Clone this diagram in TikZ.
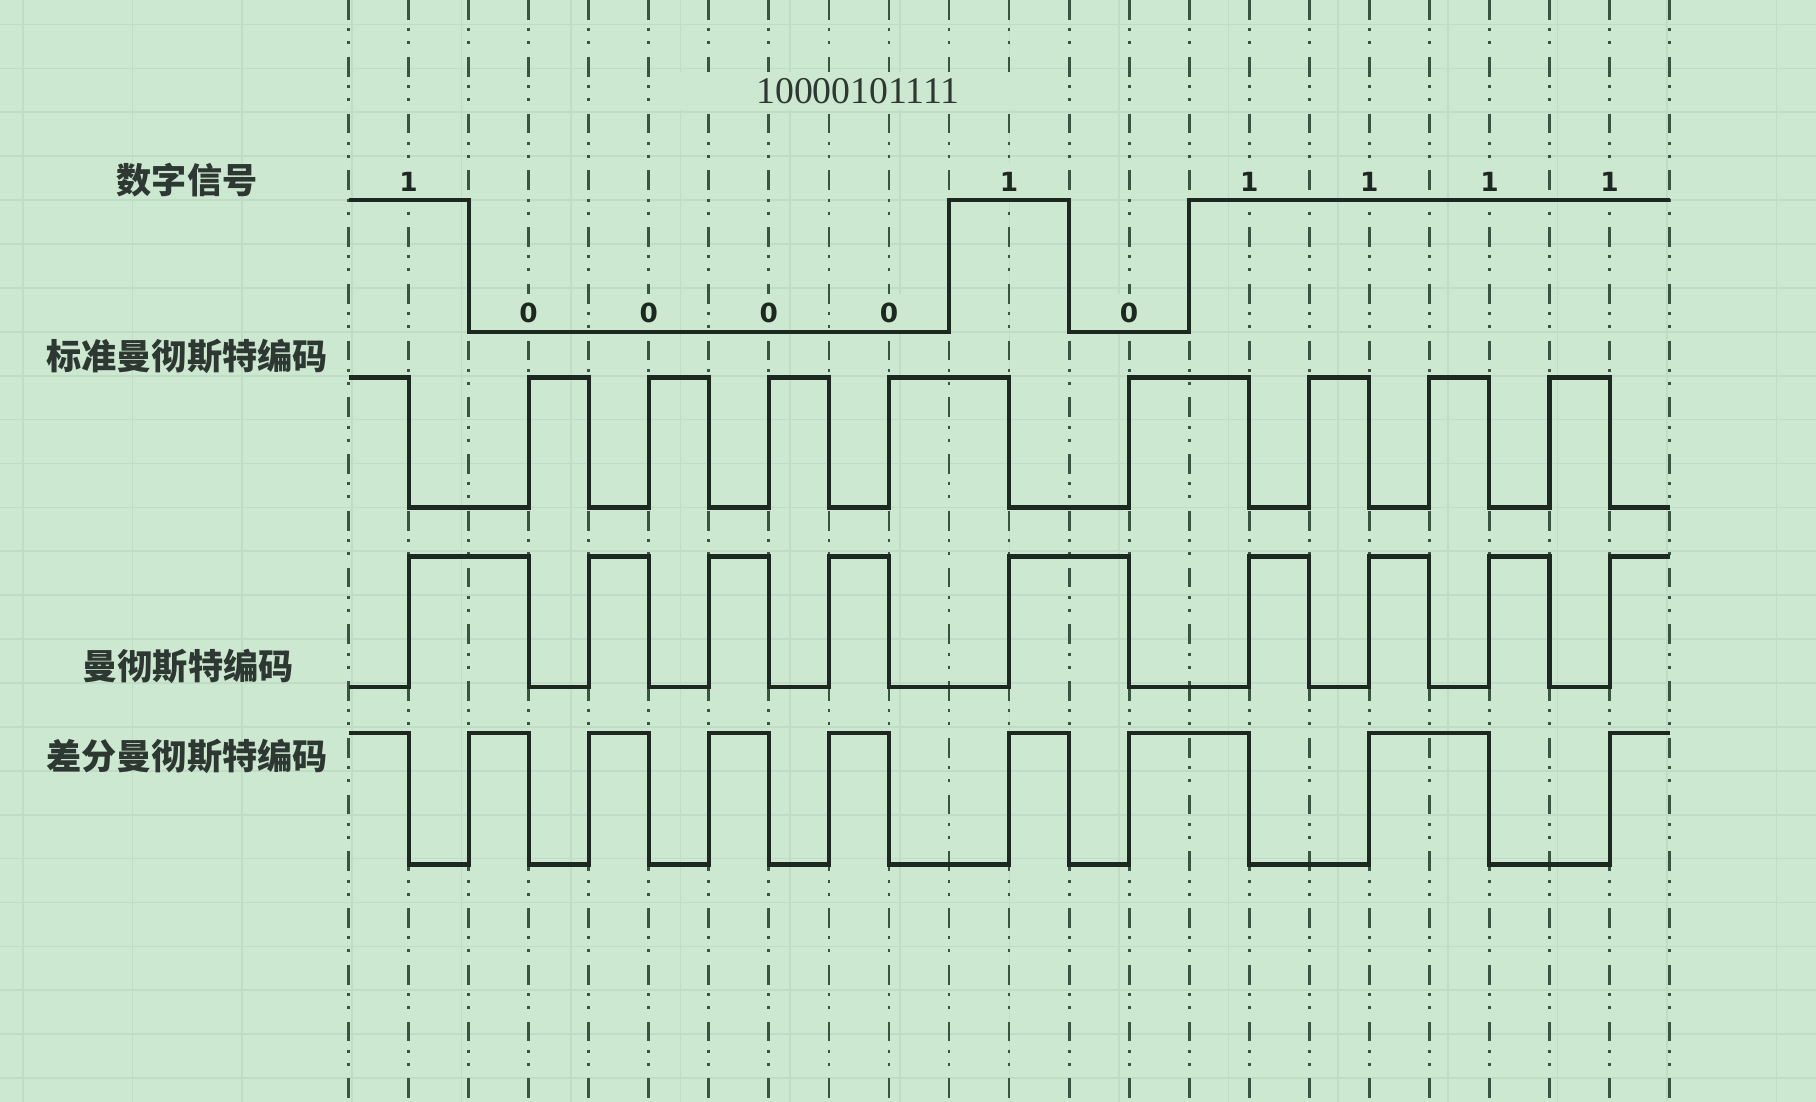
\documentclass[tikz,border=0pt]{standalone}
\usepackage{fontspec}
\usepackage{tikz}
\usetikzlibrary{math}
\newfontfamily\cjk{Noto Sans CJK SC}
\newfontfamily\bitfont{DejaVu Sans}
\newfontfamily\titlefont{Liberation Serif}
\definecolor{paper}{RGB}{205, 232, 208}
\definecolor{rule}{RGB}{193, 220, 198}
\definecolor{ink}{RGB}{28, 40, 32}
\definecolor{guide}{RGB}{58, 84, 66}
\definecolor{words}{RGB}{45, 56, 50}

\begin{document}
\begin{tikzpicture}[x=0.02cm, y=-0.02cm,
   wave/.style={draw=ink, line width=2.3pt, line join=miter},
   guideline/.style={draw=guide, line width=1.6pt,
                     dash pattern=on 11.3pt off 4.8pt on 1.7pt off 5.7pt on 1.7pt off 7.1pt},
   gridline/.style={draw=rule, line width=1pt},
   codelabel/.style={text=words, font=\cjk\bfseries\fontsize{20}{24}\selectfont,
                     inner sep=0},
   bitlabel/.style={fill=paper, text=ink, font=\bitfont\bfseries\fontsize{15}{18}\selectfont,
                    inner xsep=3pt, inner ysep=5pt},
   titlelabel/.style={fill=paper, text=words, font=\titlefont\fontsize{21.5}{26}\selectfont,
                      inner sep=0, minimum width=7.2cm, minimum height=0.76cm}
  ]

  \useasboundingbox (0, 0) rectangle (1816, 1102);
  \fill[paper] (0, 0) rectangle (1816, 1102);

  \foreach \y in {0,...,24} {
    \draw[gridline] (0, 24.5 + 43.9 * \y) -- (1816, 24.5 + 43.9 * \y);
  }
  \foreach \x in {0,...,16} {
    \draw[gridline] (23 + 109.6 * \x, 0) -- (23 + 109.6 * \x, 1102);
  }

  \begin{scope}[shift={(348.5, 0)}, xscale=60.05]
    \foreach \n in {0,...,22} {
      \draw[guideline] (\n, 0) -- (\n, 1102);
    }

    \foreach \V [count=\n from 0] in {1,0,0,0,0,1,0,1,1,1,1} {
      \node (B\n) at (2 * \n + 1, 313 - 131 * \V) [bitlabel] {\V};
    }

    % digital signal
    \draw[wave] (0, 200) -| (2, 332) -| (10, 200) -| (12, 332) -| (14, 200) -- (22, 200);

    % standard manchester
    \draw[wave] (0, 377.5) -| (1, 507.5) -| (3, 377.5) -| (4, 507.5) -| (5, 377.5)
      -| (6, 507.5) -| (7, 377.5) -| (8, 507.5) -| (9, 377.5) -| (11, 507.5)
      -| (13, 377.5) -| (15, 507.5) -| (16, 377.5) -| (17, 507.5) -| (18, 377.5)
      -| (19, 507.5) -| (20, 377.5) -| (21, 507.5) -- (22, 507.5);

    % manchester
    \draw[wave] (0, 687) -| (1, 556.5) -| (3, 687) -| (4, 556.5) -| (5, 687)
      -| (6, 556.5) -| (7, 687) -| (8, 556.5) -| (9, 687) -| (11, 556.5)
      -| (13, 687) -| (15, 556.5) -| (16, 687) -| (17, 556.5) -| (18, 687)
      -| (19, 556.5) -| (20, 687) -| (21, 556.5) -- (22, 556.5);

    % differential manchester
    \draw[wave] (0, 733) -| (1, 864.5) -| (2, 733) -| (3, 864.5) -| (4, 733)
      -| (5, 864.5) -| (6, 733) -| (7, 864.5) -| (8, 733) -| (9, 864.5)
      -| (11, 733) -| (12, 864.5) -| (13, 733) -| (15, 864.5) -| (17, 733)
      -| (19, 864.5) -| (21, 733) -- (22, 733);
  \end{scope}

  \node (T) at (858, 91) [titlelabel] {10000101111};

  \node (L1) at (187, 180) [codelabel] {数字信号};
  \node (L2) at (187, 356) [codelabel] {标准曼彻斯特编码};
  \node (L3) at (188, 666) [codelabel] {曼彻斯特编码};
  \node (L4) at (187, 756) [codelabel] {差分曼彻斯特编码};

\end{tikzpicture}
\end{document}
